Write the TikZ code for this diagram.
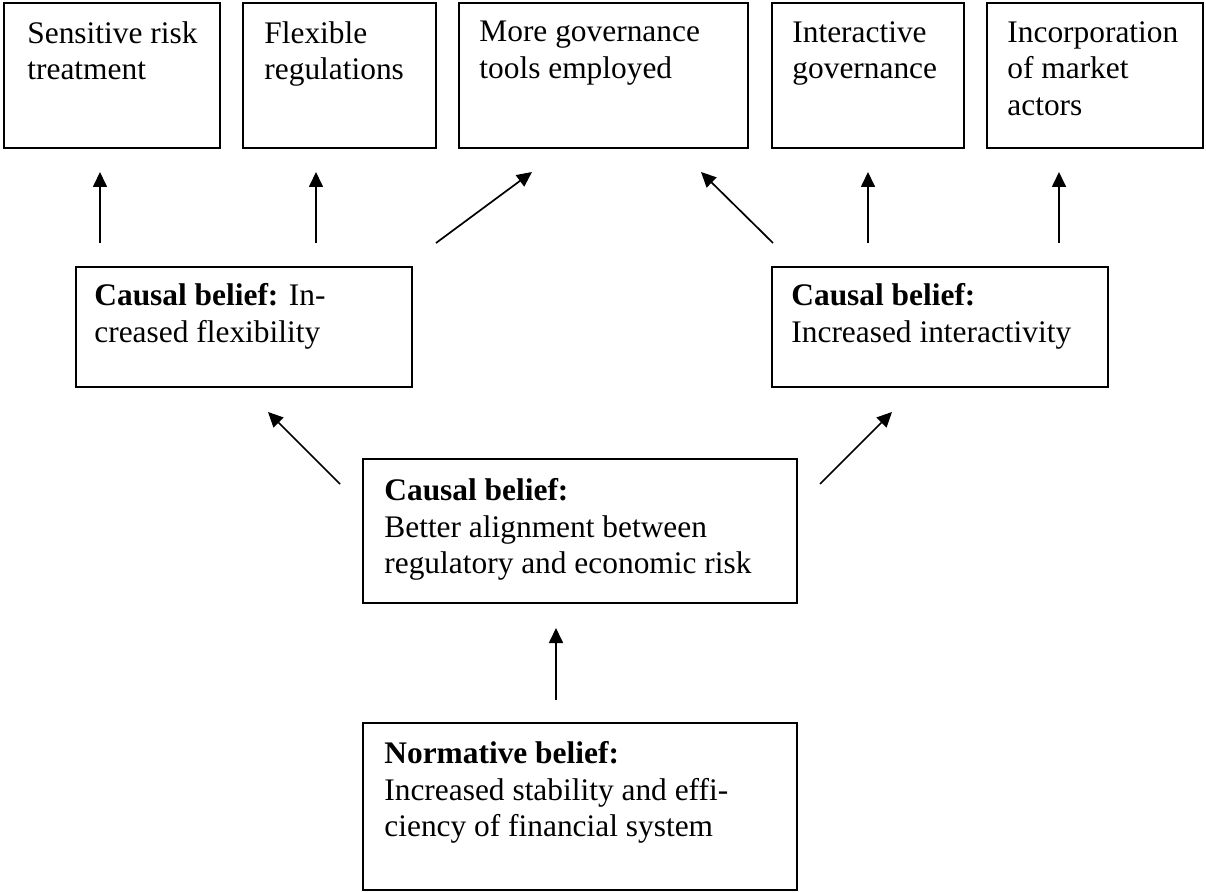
\documentclass[tikz,border=0pt]{standalone}
\usepackage{fontspec}
\setmainfont{Liberation Serif}
\usetikzlibrary{arrows.meta,fit,calc}
\newcommand{\fs}{\fontsize{15.7}{18.35}\selectfont}
\begin{document}
\begin{tikzpicture}[x=0.5pt,y=-0.5pt,
  box/.style={draw, line width=1pt, inner sep=0pt, rectangle},
  txt/.style={anchor=north west, inner sep=0pt, align=left, font=\fs},
  arr/.style={-{Triangle[length=7.5pt,width=7pt]}, line width=0.85pt}]
\useasboundingbox (0,0) rectangle (1206,893);
% top row
\node[box, fit={(4,3) (220,148)}] (b1) {};
\node[box, fit={(243,3) (436,148)}] (b2) {};
\node[box, fit={(459,3) (748,148)}] (b3) {};
\node[box, fit={(772,3) (964,148)}] (b4) {};
\node[box, fit={(987,3) (1203,148)}] (b5) {};
\node[txt] (t1) at ($(b1.north west)+(24,19)$) {Sensitive risk\\treatment};
\node[txt] (t2) at ($(b2.north west)+(22,19)$) {Flexible\\regulations};
\node[txt] (t3) at ($(b3.north west)+(21,19)$) {More governance\\tools employed};
\node[txt] (t4) at ($(b4.north west)+(21,19)$) {Interactive\\governance};
\node[txt] (t5) at ($(b5.north west)+(21,19)$) {Incorporation\\of market\\actors};
% middle row
\node[box, fit={(76,267) (412,387)}] (ml) {};
\node[box, fit={(772,267) (1108,387)}] (mr) {};
\node[txt] (tml) at ($(ml.north west)+(19,17)$) {\textbf{Causal belief:} In-\\creased flexibility};
\node[txt] (tmr) at ($(mr.north west)+(20,17)$) {\textbf{Causal belief:}\\Increased interactivity};
% center
\node[box, fit={(363,459) (797,603)}] (c) {};
\node[txt] (tc) at ($(c.north west)+(22,20)$) {\textbf{Causal belief:}\\Better alignment between\\regulatory and economic risk};
% bottom
\node[box, fit={(363,723) (797,890)}] (n) {};
\node[txt] (tn) at ($(n.north west)+(22,19)$) {\textbf{Normative belief:}\\Increased stability and effi-\\ciency of financial system};
% arrow coordinates
\coordinate (a1s) at (100,243); \coordinate (a1e) at (100,172);
\coordinate (a2s) at (316,243); \coordinate (a2e) at (316,172);
\coordinate (a3s) at (436,243); \coordinate (a3e) at (532,172);
\coordinate (a4s) at (773,243); \coordinate (a4e) at (701,172);
\coordinate (a5s) at (868,243); \coordinate (a5e) at (868,172);
\coordinate (a6s) at (1059,243); \coordinate (a6e) at (1059,172);
\coordinate (a7s) at (340,484); \coordinate (a7e) at (268,412);
\coordinate (a8s) at (820,484); \coordinate (a8e) at (892,412);
\coordinate (a9s) at (556,700); \coordinate (a9e) at (556,628);
\foreach \i in {1,...,9} {\draw[arr] (a\i s) -- (a\i e);}
\end{tikzpicture}
\end{document}
